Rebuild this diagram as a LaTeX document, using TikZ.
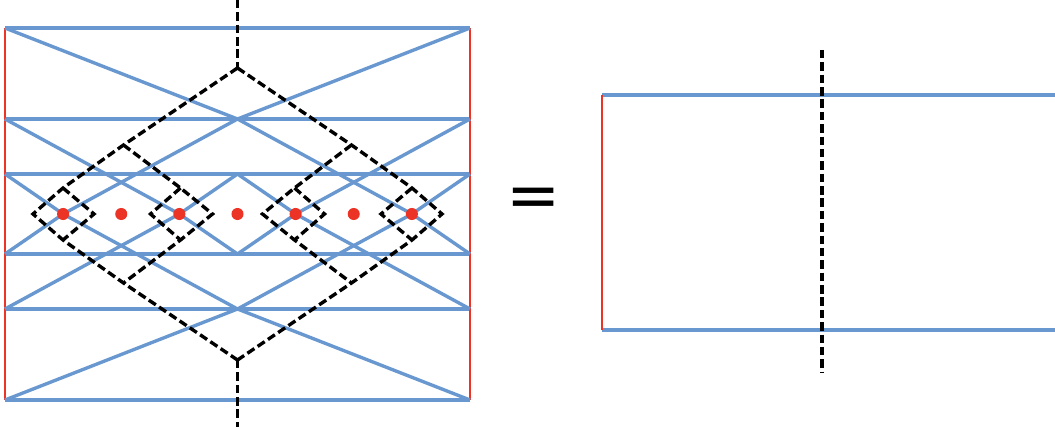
\documentclass[tikz,border=0pt]{standalone}
\usepackage{fontspec}
\newfontfamily\eqfont{DejaVu Sans}
\usetikzlibrary{positioning}
\definecolor{legblue}{RGB}{104,152,207}
\definecolor{legred}{RGB}{236,52,38}

\begin{document}
\begin{tikzpicture}[x=0.025cm, y=-0.025cm,
    leg/.style={draw=legblue, line width=2.4pt},
    edge/.style={draw=legred, line width=1.7pt},
    cut/.style={draw=black, line width=2.4pt, dash pattern=on 6pt off 2.8pt, line join=miter},
    site/.style={circle, fill=legred, inner sep=0pt, minimum size=8.6pt}
]
\useasboundingbox (0,0) rectangle (1055,427);

% rows of the strip
\foreach \n/\y in {1/28,2/119,3/174,4/254,5/309,6/400} {
  \coordinate (l\n) at (5,\y);
  \coordinate (m\n) at (237.5,\y);
  \coordinate (r\n) at (470,\y);
  \draw[leg] (l\n) -- (r\n);
}
\draw[edge] (l1) -- (l6);
\draw[edge] (r1) -- (r6);

% sites
\foreach \k in {1,...,7} {
  \coordinate (p\k) at (5+58.125*\k,214);
}

% zigzag legs
\draw[leg] (l1) -- (m2) -- (r1);
\draw[leg] (l6) -- (m5) -- (r6);
\draw[leg] (l2) -- (p3);
\draw[leg] (m2) -- (p1);
\draw[leg] (m2) -- (p7);
\draw[leg] (r2) -- (p5);
\draw[leg] (l5) -- (p3);
\draw[leg] (m5) -- (p1);
\draw[leg] (m5) -- (p7);
\draw[leg] (r5) -- (p5);
\draw[leg] (l3) -- (p1);
\draw[leg] (m3) -- (p3);
\draw[leg] (m3) -- (p5);
\draw[leg] (r3) -- (p7);
\draw[leg] (l4) -- (p1);
\draw[leg] (m4) -- (p3);
\draw[leg] (m4) -- (p5);
\draw[leg] (r4) -- (p7);

% dashed tree
\coordinate (s1) at (237.5,0);
\coordinate (t0) at (237.5,68);
\coordinate (b0) at (237.5,360);
\coordinate (s2) at (237.5,427);
\coordinate (dl) at (33,214);
\coordinate (dr) at (442,214);
\coordinate (u1) at (123.5,145);
\coordinate (u2) at (351.5,145);
\coordinate (w1) at (123.5,283);
\coordinate (w2) at (351.5,283);
\coordinate (ci1) at (212.5,214);
\coordinate (ci2) at (262.5,214);
\coordinate (a1) at (63,188);
\coordinate (a2) at (180.5,188);
\coordinate (a3) at (294.5,188);
\coordinate (a4) at (412,188);
\coordinate (e1) at (63,240);
\coordinate (e2) at (180.5,240);
\coordinate (e3) at (294.5,240);
\coordinate (e4) at (412,240);
\coordinate (q1) at (94,214);
\coordinate (q2) at (150.5,214);
\coordinate (q3) at (324.5,214);
\coordinate (q4) at (381,214);

\draw[cut] (s1) -- (t0);
\draw[cut] (b0) -- (s2);
\draw[cut] (t0) -- (u1) -- (a1) -- (dl) -- (e1) -- (w1) -- (b0);
\draw[cut] (t0) -- (u2) -- (a4) -- (dr) -- (e4) -- (w2) -- (b0);
\draw[cut] (u1) -- (a2) -- (ci1) -- (e2) -- (w1);
\draw[cut] (u2) -- (a3) -- (ci2) -- (e3) -- (w2);
\draw[cut] (a1) -- (q1) -- (e1);
\draw[cut] (a2) -- (q2) -- (e2);
\draw[cut] (a3) -- (q3) -- (e3);
\draw[cut] (a4) -- (q4) -- (e4);

\foreach \k in {1,...,7} {
  \node[site] (d\k) at (p\k) {};
}

% equals
\node[font=\eqfont\fontsize{46}{46}\selectfont, inner sep=0pt] (eq) at (534,203) {=};

% right strip
\coordinate (rl1) at (602,95);
\coordinate (rl2) at (602,330);
\coordinate (rr1) at (1055,95);
\coordinate (rr2) at (1055,330);
\coordinate (rc1) at (822,50);
\coordinate (rc2) at (822,372);
\draw[leg] (rl1) -- (rr1);
\draw[leg] (rl2) -- (rr2);
\draw[edge] (rl1) -- (rl2);
\draw[cut] (rc1) -- (rc2);
\end{tikzpicture}
\end{document}
